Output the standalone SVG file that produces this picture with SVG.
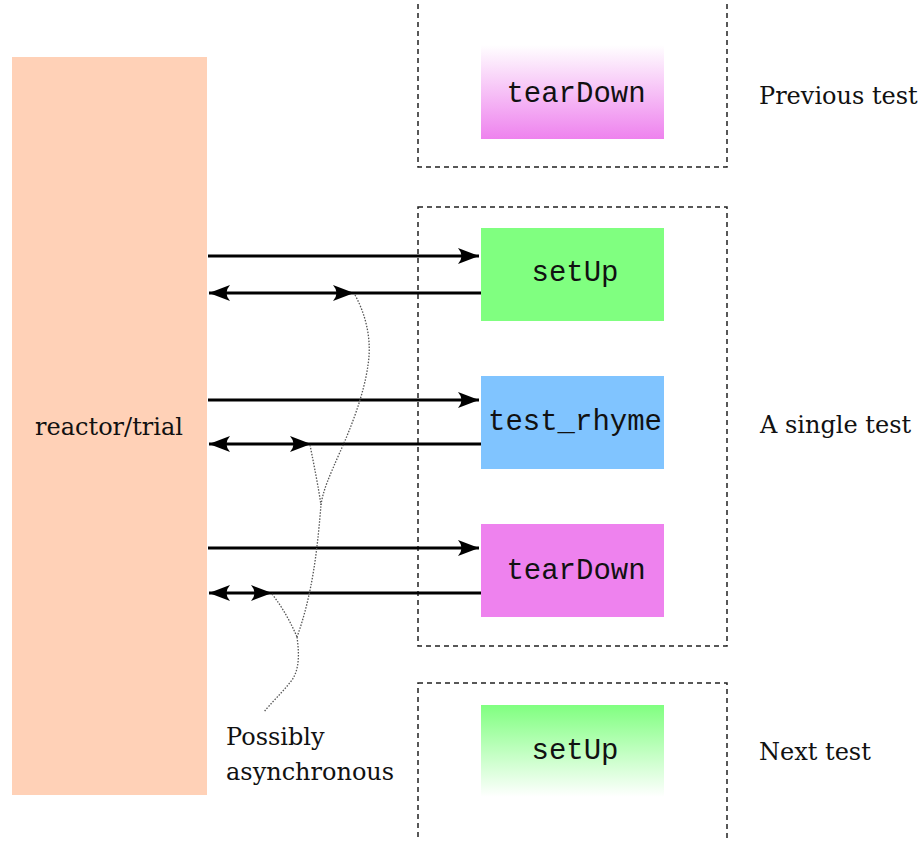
<svg xmlns="http://www.w3.org/2000/svg" width="922" height="841" viewBox="0 0 922 841">
<defs>
<linearGradient id="gFadeViolet" x1="0" y1="0" x2="0" y2="1">
<stop offset="0" stop-color="#ee82ee" stop-opacity="0"/>
<stop offset="1" stop-color="#ee82ee"/>
</linearGradient>
<linearGradient id="gFadeGreen" x1="0" y1="0" x2="0" y2="1">
<stop offset="0" stop-color="#80ff80"/>
<stop offset="1" stop-color="#80ff80" stop-opacity="0"/>
</linearGradient>
<marker id="ah" markerUnits="userSpaceOnUse" markerWidth="24" markerHeight="20" viewBox="-22 -10 24 20" refX="0" refY="0" orient="auto">
<path d="M0,0 L-21,-8 Q-14,0 -21,8 Z" fill="#000"/>
</marker>
<marker id="ahs" markerUnits="userSpaceOnUse" markerWidth="24" markerHeight="20" viewBox="-22 -10 24 20" refX="0" refY="0" orient="auto-start-reverse">
<path d="M0,0 L-21,-8 Q-14,0 -21,8 Z" fill="#000"/>
</marker>
</defs>
<style>
.group{fill:none;stroke:#222;stroke-width:1.5;stroke-dasharray:5,4}
.mono{font-family:"Liberation Mono","Courier New",monospace;font-size:29px;fill:#111;text-anchor:middle}
.lbl{font-family:"DejaVu Serif","Liberation Serif",serif;font-size:24px;fill:#111}
.call{fill:none;stroke:#000;stroke-width:3}
.async{fill:none;stroke:#555;stroke-width:1.3;stroke-dasharray:1.5,1.5}
.mid{fill:#000}
</style>

<g id="reactor">
<rect x="12" y="57" width="195" height="738" fill="#ffd1b7"/>
<text class="lbl" x="109" y="435" text-anchor="middle">reactor/trial</text>
</g>

<g id="previous-test">
<rect class="group" x="418" y="-20" width="309" height="187"/>
<rect x="481" y="45" width="183" height="94" fill="url(#gFadeViolet)"/>
<text class="mono" x="576" y="102">tearDown</text>
<text class="lbl" x="759" y="104">Previous test</text>
</g>

<g id="single-test">
<rect class="group" x="418" y="207" width="309" height="439"/>
<text class="lbl" x="760" y="433">A single test</text>
</g>

<g id="setUp">
<rect x="481" y="228" width="183" height="93" fill="#80ff80"/>
<text class="mono" x="575" y="281">setUp</text>
</g>

<g id="test_rhyme">
<rect x="481" y="376" width="183" height="93" fill="#80c4ff"/>
<text class="mono" x="575" y="430">test_rhyme</text>
</g>

<g id="tearDown">
<rect x="481" y="524" width="183" height="93" fill="#ee82ee"/>
<text class="mono" x="576" y="579">tearDown</text>
</g>

<g id="next-test">
<rect class="group" x="418" y="683" width="309" height="200"/>
<rect x="481" y="705" width="183" height="92" fill="url(#gFadeGreen)"/>
<text class="mono" x="575" y="759">setUp</text>
<text class="lbl" x="759" y="760">Next test</text>
</g>

<g id="note">
<text class="lbl" x="226" y="745">Possibly</text>
<text class="lbl" x="226" y="780">asynchronous</text>
</g>

<g id="connectors">
<path class="call" d="M208,256 H479" marker-end="url(#ah)"/>
<path class="call" d="M481,293 H209" marker-end="url(#ah)"/>
<path class="mid" d="M354,293 L333,285 Q340,293 333,301 Z"/>
<path class="call" d="M208,400 H479" marker-end="url(#ah)"/>
<path class="call" d="M481,444 H209" marker-end="url(#ah)"/>
<path class="mid" d="M311,444 L290,436 Q297,444 290,452 Z"/>
<path class="call" d="M208,548 H479" marker-end="url(#ah)"/>
<path class="call" d="M481,593 H209" marker-end="url(#ah)"/>
<path class="mid" d="M272,593 L251,585 Q258,593 251,601 Z"/>

<path class="async" d="M355,295 C366,315 372,340 368,365 C364,395 350,430 340,452 C330,475 323,490 321,505 C318,540 314,590 297,637"/>
<path class="async" d="M310,445 C314,465 318,485 321,505"/>
<path class="async" d="M272,594 C283,608 291,623 297,637"/>
<path class="async" d="M297,637 C299,652 300,668 292,680 C282,693 270,704 264,712"/>
</g>
</svg>
